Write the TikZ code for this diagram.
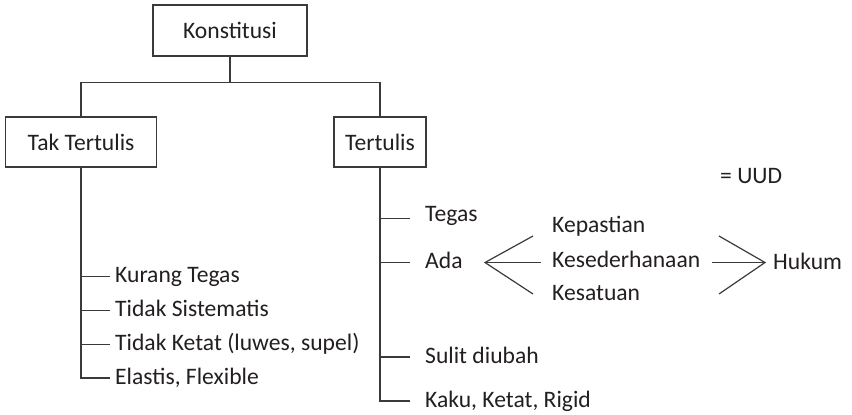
\documentclass[tikz,border=0pt]{standalone}
\usepackage{fontspec}
\setmainfont{Carlito}
\definecolor{ln}{HTML}{3A3A3A}
\definecolor{tx}{HTML}{231F20}
\begin{document}
\begin{tikzpicture}[x=1pt,y=-1pt,
  every node/.style={font=\fontsize{23.6}{28}\selectfont, text=tx},
  line/.style={draw=ln, line width=1.2pt},
  box/.style={draw=ln, line width=1.2pt, minimum height=50pt, inner sep=0pt},
  leafL/.style={anchor=base west, inner xsep=5pt, inner ysep=0pt, text height=12pt, text depth=0pt},
  leafR/.style={anchor=base west, inner xsep=15pt, inner ysep=0pt, text height=12pt, text depth=0pt},
  plain/.style={anchor=base west, inner sep=0pt}]
\useasboundingbox (0,0) rectangle (852,415);

% boxes
\node[box, minimum width=154pt, minimum height=51pt] (konst) at (230,30.5) {Konstitusi};
\node[box, minimum width=151pt] (tak) at (81,142) {Tak Tertulis};
\node[box, minimum width=92pt] (tert) at (380,142) {Tertulis};

% top connectors
\draw[line] (konst.south) -- ++(0,26) coordinate (j);
\draw[line] (tak.north) |- (j) -| (tert.north);

% left leaves
\node[leafL] (kt) at (110,282.5) {Kurang Tegas};
\node[leafL] (ts) at (110,316.5) {Tidak Sistematis};
\node[leafL] (tk) at (110,350.5) {Tidak Ketat (luwes, supel)};
\node[leafL] (el) at (110,384) {Elastis, Flexible};
\foreach \n in {kt,ts,tk,el}
  \draw[line] (tak.south) |- (\n.west);

% right leaves
\node[leafR] (tg) at (410,221.5) {Tegas};
\node[leafR] (ada) at (410,268.5) {Ada};
\node[leafR] (sd) at (410,363) {Sulit diubah};
\node[leafR] (kk) at (410,407) {Kaku, Ketat, Rigid};
\draw[line] (tert.south) |- ([yshift=-3pt]tg.west);
\draw[line] (tert.south) |- (ada.west);
\draw[line] (tert.south) |- (sd.west);
\draw[line] (tert.south) |- (kk.west);

% middle terms
\node[plain] (kep) at (552,232) {Kepastian};
\node[plain] (kes) at (552,267) {Kesederhanaan};
\node[plain] (ksa) at (552,300) {Kesatuan};
\node[plain] (huk) at (773,269) {Hukum};
\node[plain] (uud) at (720,183) {= UUD};

% fan from Ada
\coordinate (fa) at (485,262.5);
\coordinate (a1) at (533,236);
\coordinate (a2) at (541,262.5);
\coordinate (a3) at (533,294);
\draw[line] (a1) -- (fa) -- (a3);
\draw[line] (fa) -- (a2);

% fan to Hukum
\coordinate (hk) at (765,262.5);
\coordinate (h1) at (719,236);
\coordinate (h2) at (712,262.5);
\coordinate (h3) at (719,294);
\draw[line] (h1) -- (hk) -- (h3);
\draw[line] (h2) -- (hk);
\end{tikzpicture}
\end{document}
